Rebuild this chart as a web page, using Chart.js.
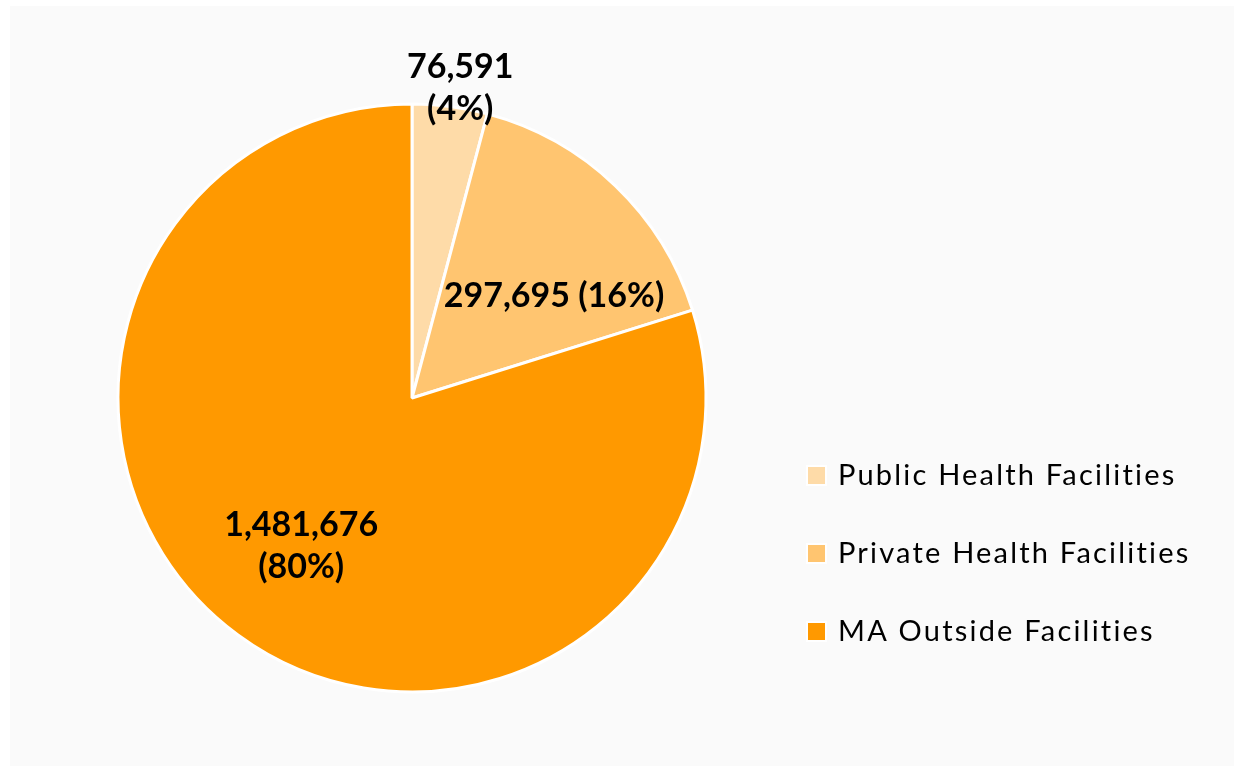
<!DOCTYPE html>
<html>
<head>
<meta charset="utf-8">
<script src="https://cdn.jsdelivr.net/npm/chart.js@4"></script>
<style>
  html, body { margin: 0; padding: 0; background: #ffffff; }
  #wrap { width: 1244px; height: 773px; }
</style>
</head>
<body>
<div id="wrap"><canvas id="facilityPie" width="1244" height="773"></canvas></div>
<script>
// data
var categories = ["Public Health Facilities", "Private Health Facilities", "MA Outside Facilities"];
var values = [76591, 297695, 1481676];
var sliceColors = ["#fedba8", "#ffc570", "#ff9900"];

// label placement (offset from pie centre, in radius units) - Excel style best fit
var labelOffsets = [[0.164, -1.089], [0.483, -0.308], [-0.377, 0.469]];
var labelTwoLines = [true, false, true];

function pctText(i) {
  var total = values.reduce(function(a, b) { return a + b; }, 0);
  return '(' + Math.round(values[i] / total * 100) + '%)';
}

var panelBg = {
  id: 'panelBg',
  beforeDraw: function(chart) {
    var ctx = chart.ctx;
    ctx.save();
    ctx.fillStyle = '#fafafa';
    ctx.fillRect(10, 6, 1224, 760);
    ctx.restore();
  }
};

var sliceLabels = {
  id: 'sliceLabels',
  afterDatasetsDraw: function(chart) {
    var ctx = chart.ctx;
    var arcs = chart.getDatasetMeta(0).data;
    ctx.save();
    ctx.fillStyle = '#000';
    ctx.font = 'bold 34px Lato';
    ctx.textAlign = 'center';
    ctx.textBaseline = 'alphabetic';
    arcs.forEach(function(arc, i) {
      var r = arc.outerRadius;
      var x = arc.x + labelOffsets[i][0] * r;
      var y = arc.y + labelOffsets[i][1] * r;
      var num = values[i].toLocaleString('en-US');
      if (labelTwoLines[i]) {
        ctx.fillText(num, x, y);
        ctx.fillText(pctText(i), x, y + 42);
      } else {
        ctx.fillText(num + ' ' + pctText(i), x, y);
      }
    });
    ctx.restore();
  }
};

var sideLegend = {
  id: 'sideLegend',
  afterDraw: function(chart) {
    var ctx = chart.ctx;
    ctx.save();
    ctx.font = '29px Lato';
    ctx.letterSpacing = '2.2px';
    ctx.textAlign = 'left';
    ctx.textBaseline = 'alphabetic';
    chart.data.labels.forEach(function(lbl, i) {
      var y = 485 + i * 78;
      ctx.fillStyle = '#ffffff';
      ctx.fillRect(806, y - 20, 21, 21);
      ctx.fillStyle = chart.data.datasets[0].backgroundColor[i];
      ctx.fillRect(808, y - 18, 17, 17);
      ctx.fillStyle = '#000';
      ctx.fillText(lbl, 838, y);
    });
    ctx.restore();
  }
};

new Chart(document.getElementById('facilityPie'), {
  type: 'pie',
  data: {
    labels: categories,
    datasets: [{
      data: values,
      backgroundColor: sliceColors,
      borderColor: '#ffffff',
      borderWidth: 3
    }]
  },
  options: {
    responsive: false,
    animation: false,
    layout: { padding: { left: 116.5, top: 102.5, right: 536.5, bottom: 79.5 } },
    plugins: {
      legend: { display: false },
      tooltip: { enabled: false }
    }
  },
  plugins: [panelBg, sliceLabels, sideLegend]
});
</script>
</body>
</html>
